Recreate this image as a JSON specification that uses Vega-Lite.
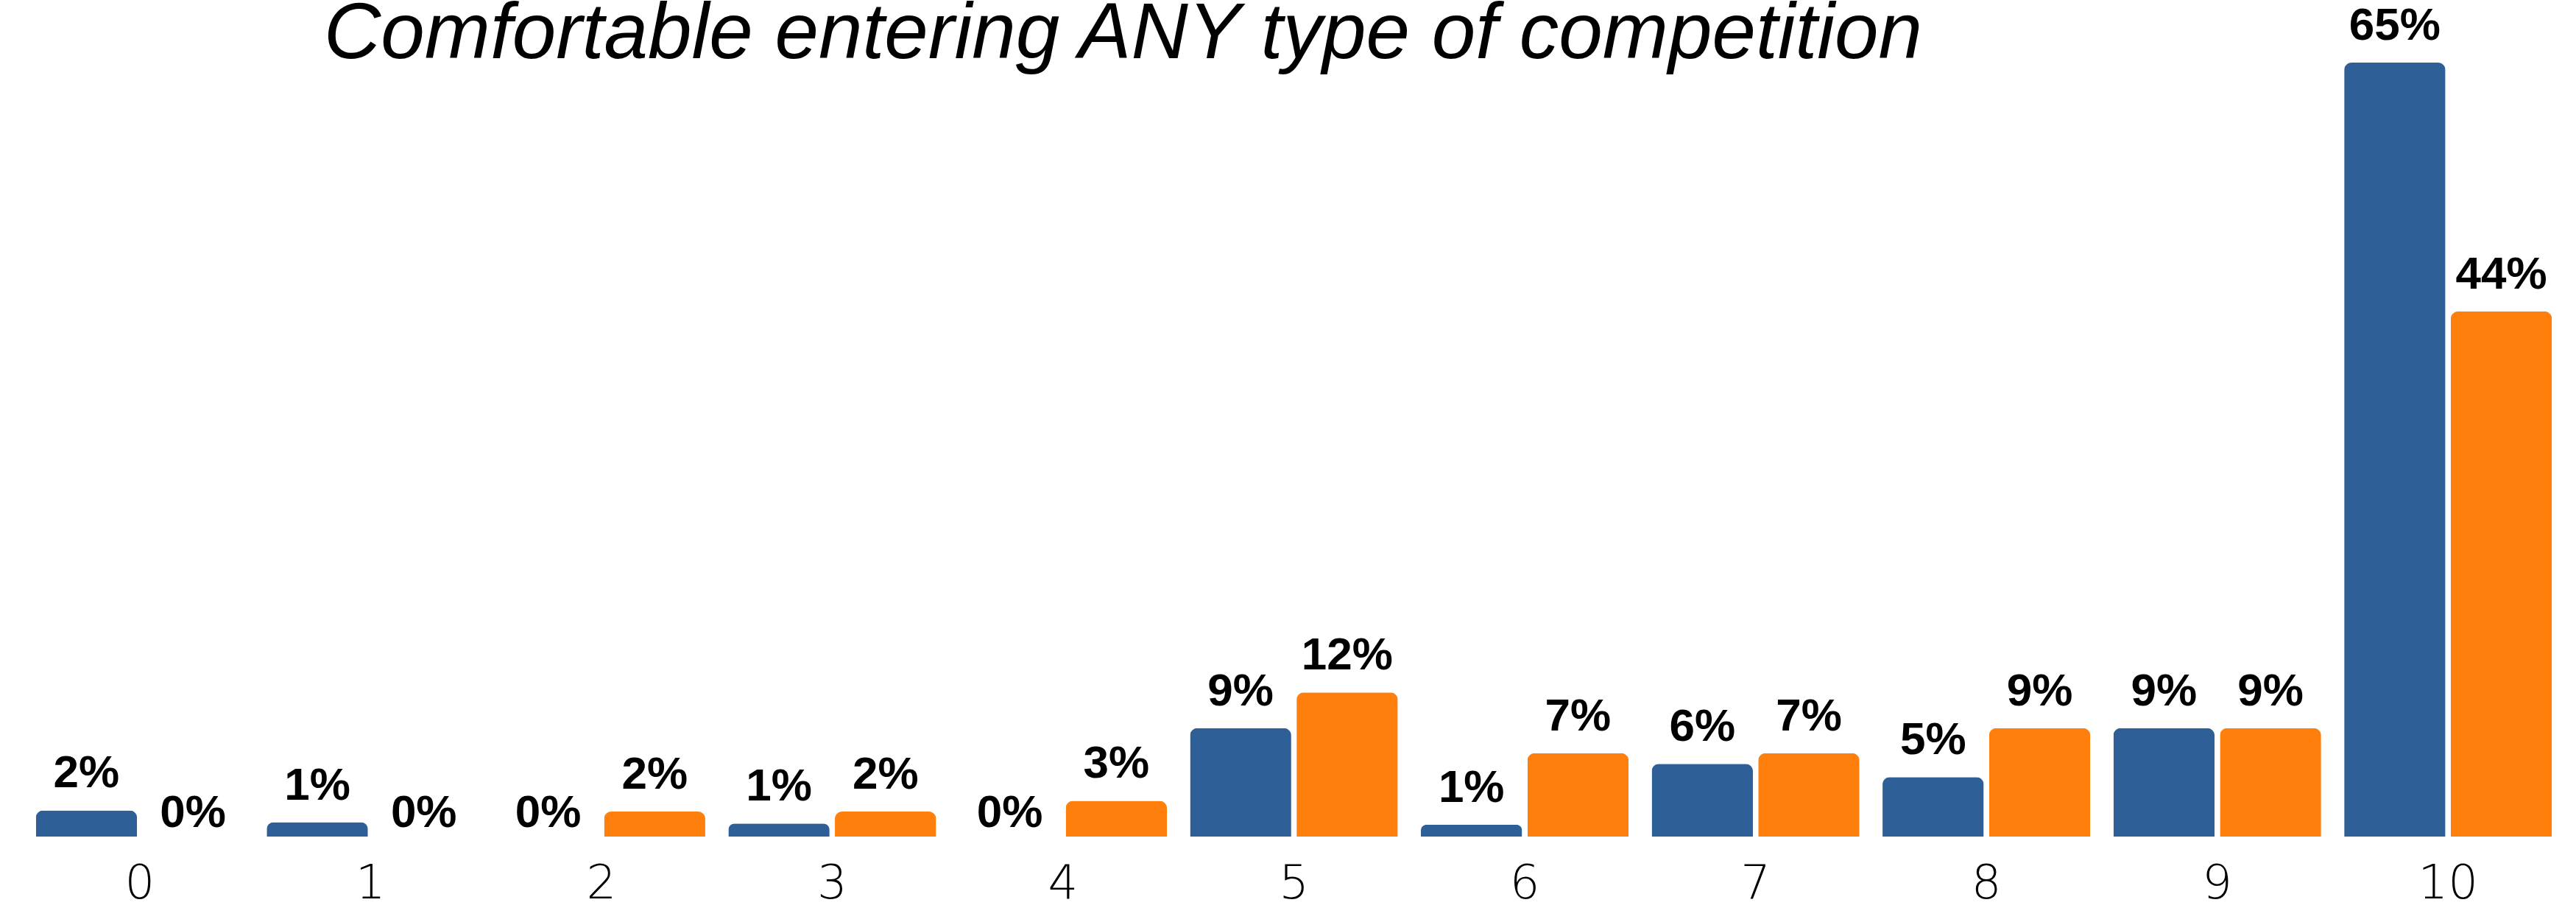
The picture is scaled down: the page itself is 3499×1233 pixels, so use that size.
{
  "$schema": "https://vega.github.io/schema/vega-lite/v6.json",
  "autosize": {"type": "none"},
  "width": 3449,
  "height": 1136,
  "padding": {"left": 33, "right": 17, "top": 0, "bottom": 97},
  "background": "white",
  "config": {"view": {"stroke": null}},
  "title": {
    "text": "Comfortable entering ANY type of competition",
    "font": "Liberation Sans",
    "fontStyle": "italic",
    "fontWeight": "normal",
    "fontSize": 107,
    "color": "black",
    "anchor": "middle",
    "offset": 0,
    "baseline": "top",
    "dx": -232,
    "dy": 101
  },
  "data": {
    "values": [
      {"score": 0, "group": "Series 1", "value": 0.022},
      {"score": 0, "group": "Series 2", "value": 0},
      {"score": 1, "group": "Series 1", "value": 0.012},
      {"score": 1, "group": "Series 2", "value": 0},
      {"score": 2, "group": "Series 1", "value": 0},
      {"score": 2, "group": "Series 2", "value": 0.021},
      {"score": 3, "group": "Series 1", "value": 0.011},
      {"score": 3, "group": "Series 2", "value": 0.021},
      {"score": 4, "group": "Series 1", "value": 0},
      {"score": 4, "group": "Series 2", "value": 0.030},
      {"score": 5, "group": "Series 1", "value": 0.091},
      {"score": 5, "group": "Series 2", "value": 0.121},
      {"score": 6, "group": "Series 1", "value": 0.010},
      {"score": 6, "group": "Series 2", "value": 0.070},
      {"score": 7, "group": "Series 1", "value": 0.061},
      {"score": 7, "group": "Series 2", "value": 0.070},
      {"score": 8, "group": "Series 1", "value": 0.050},
      {"score": 8, "group": "Series 2", "value": 0.091},
      {"score": 9, "group": "Series 1", "value": 0.091},
      {"score": 9, "group": "Series 2", "value": 0.091},
      {"score": 10, "group": "Series 1", "value": 0.650},
      {"score": 10, "group": "Series 2", "value": 0.441}
    ]
  },
  "encoding": {
    "x": {
      "field": "score",
      "type": "ordinal",
      "sort": "ascending",
      "scale": {"paddingInner": 0.1, "paddingOuter": 0.05},
      "axis": {
        "title": null,
        "domain": false,
        "ticks": false,
        "labelAngle": 0,
        "labelFont": "DejaVu Sans",
        "labelFontWeight": 300,
        "labelFontSize": 64,
        "labelColor": "black",
        "labelPadding": 32,
        "grid": false
      }
    },
    "xOffset": {
      "field": "group",
      "type": "nominal",
      "scale": {"paddingInner": 0.05}
    },
    "y": {
      "field": "value",
      "type": "quantitative",
      "scale": {"domain": [0, 0.7026], "nice": false, "zero": true},
      "axis": null
    }
  },
  "layer": [
    {
      "mark": {"type": "bar", "cornerRadiusTopLeft": 10, "cornerRadiusTopRight": 10},
      "encoding": {
        "color": {
          "field": "group",
          "type": "nominal",
          "scale": {"domain": ["Series 1", "Series 2"], "range": ["#2f5f97", "#fe7f0b"]},
          "legend": null
        }
      }
    },
    {
      "transform": [{"filter": "datum.value > 0"}],
      "mark": {
        "type": "text",
        "baseline": "bottom",
        "dy": -18,
        "font": "Liberation Sans",
        "fontWeight": "bold",
        "fontSize": 62,
        "color": "black"
      },
      "encoding": {"text": {"field": "value", "type": "quantitative", "format": ".0%"}}
    },
    {
      "transform": [{"filter": "datum.value == 0"}],
      "mark": {
        "type": "text",
        "baseline": "bottom",
        "dy": 0,
        "font": "Liberation Sans",
        "fontWeight": "bold",
        "fontSize": 62,
        "color": "black"
      },
      "encoding": {"text": {"field": "value", "type": "quantitative", "format": ".0%"}}
    }
  ]
}
